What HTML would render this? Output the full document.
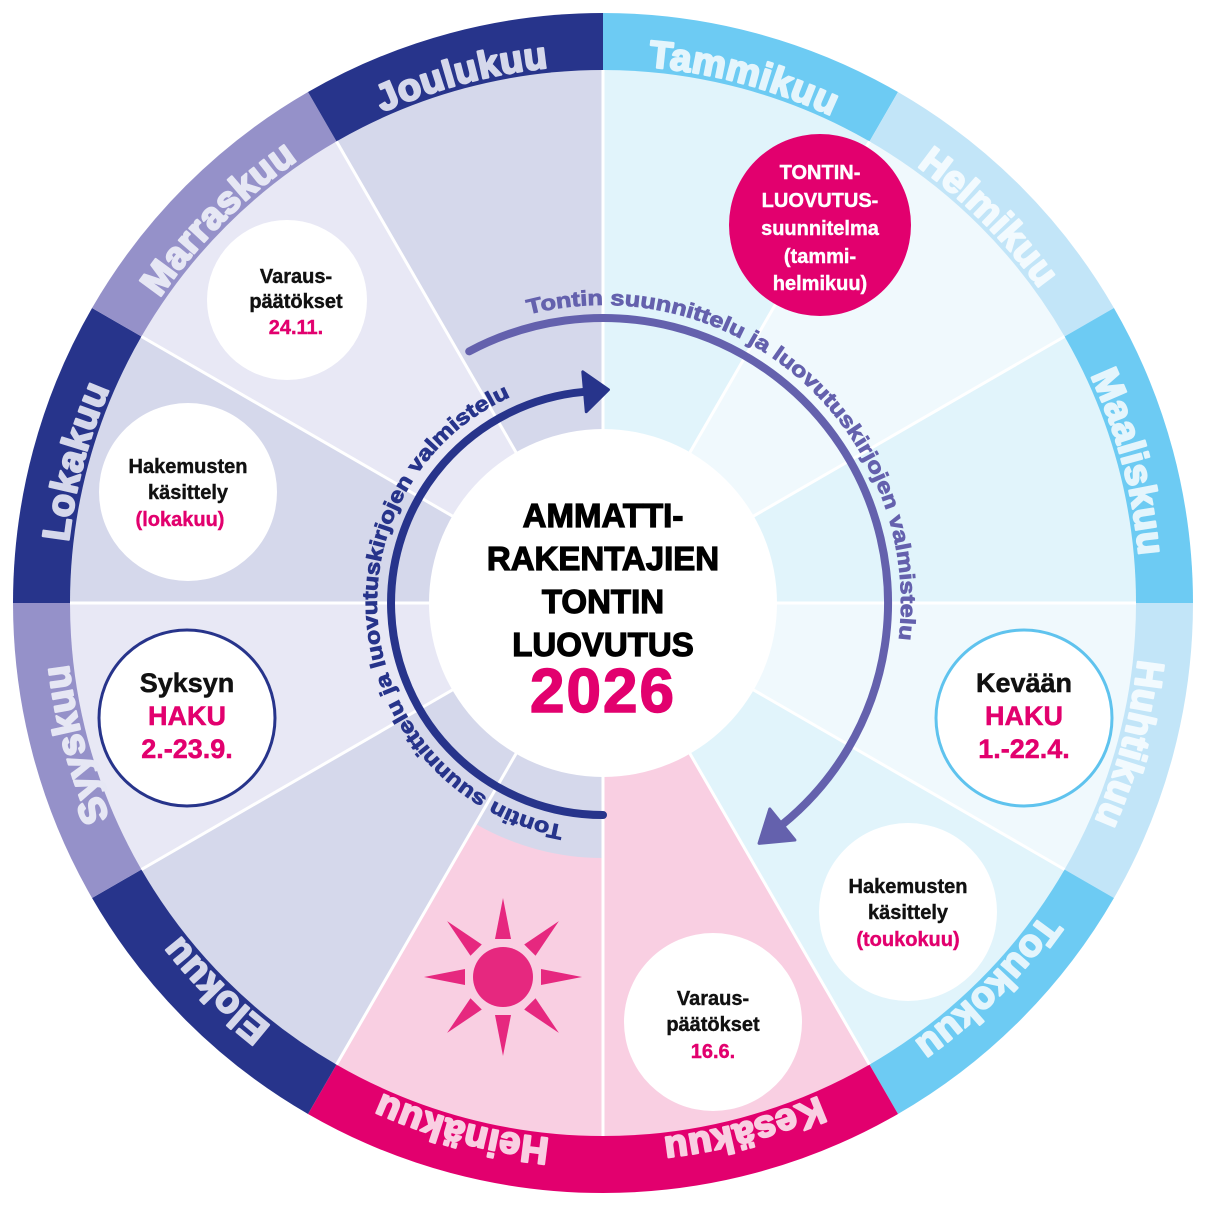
<!DOCTYPE html>
<html><head><meta charset="utf-8"><style>
html,body{margin:0;padding:0;background:#fff;}
svg{display:block;font-family:"Liberation Sans",sans-serif;font-weight:bold;}
</style></head><body>
<svg id="s" width="1206" height="1206" viewBox="0 0 1206 1206" xmlns="http://www.w3.org/2000/svg">
<g id="shapes"></g>
<defs>
<path id="m0" d="M603,65 A538,538 0 0 1 872,137.1"/>
<path id="m1" d="M872,137.1 A538,538 0 0 1 1068.9,334"/>
<path id="m2" d="M1068.9,334 A538,538 0 0 1 1141,603"/>
<path id="m3" d="M1141,603 A538,538 0 0 1 1068.9,872"/>
<path id="m4" d="M1068.9,872 A538,538 0 0 1 872,1068.9"/>
<path id="m5" d="M872,1068.9 A538,538 0 0 1 603,1141"/>
<path id="m6" d="M603,1141 A538,538 0 0 1 334,1068.9"/>
<path id="m7" d="M334,1068.9 A538,538 0 0 1 137.1,872"/>
<path id="m8" d="M137.1,872 A538,538 0 0 1 65,603"/>
<path id="m9" d="M65,603 A538,538 0 0 1 137.1,334"/>
<path id="m10" d="M137.1,334 A538,538 0 0 1 334,137.1"/>
<path id="m11" d="M334,137.1 A538,538 0 0 1 603,65"/>
<path id="tp1"/>
<path id="tp2"/>
</defs>
<g font-size="38" text-anchor="middle" letter-spacing="0.5" stroke-width="2.2" stroke-linejoin="round">
<text fill="#e4f5fc" stroke="#e4f5fc"><textPath href="#m0" startOffset="50%">Tammikuu</textPath></text>
<text fill="#f2fafe" stroke="#f2fafe"><textPath href="#m1" startOffset="50%">Helmikuu</textPath></text>
<text fill="#e4f5fc" stroke="#e4f5fc"><textPath href="#m2" startOffset="50%">Maaliskuu</textPath></text>
<text fill="#f2fafe" stroke="#f2fafe"><textPath href="#m3" startOffset="50%">Huhtikuu</textPath></text>
<text fill="#e4f5fc" stroke="#e4f5fc"><textPath href="#m4" startOffset="50%">Toukokuu</textPath></text>
<text fill="#f9cfe2" stroke="#f9cfe2"><textPath href="#m5" startOffset="50%">Kesäkuu</textPath></text>
<text fill="#f9cfe2" stroke="#f9cfe2"><textPath href="#m6" startOffset="50%">Heinäkuu</textPath></text>
<text fill="#d5d8eb" stroke="#d5d8eb"><textPath href="#m7" startOffset="50%">Elokuu</textPath></text>
<text fill="#e6e7f4" stroke="#e6e7f4"><textPath href="#m8" startOffset="50%">Syyskuu</textPath></text>
<text fill="#d5d8eb" stroke="#d5d8eb"><textPath href="#m9" startOffset="50%">Lokakuu</textPath></text>
<text fill="#e6e7f4" stroke="#e6e7f4"><textPath href="#m10" startOffset="50%">Marraskuu</textPath></text>
<text fill="#d5d8eb" stroke="#d5d8eb"><textPath href="#m11" startOffset="50%">Joulukuu</textPath></text>
</g>
<g id="arrows"></g>
<text font-size="21" fill="#27348b" stroke="#27348b" stroke-width="0.8" textLength="575" lengthAdjust="spacingAndGlyphs"><textPath href="#tp1" startOffset="8">Tontin suunnittelu ja luovutuskirjojen valmistelu</textPath></text>
<text font-size="21" fill="#6461ad" stroke="#6461ad" stroke-width="0.8" textLength="580" lengthAdjust="spacingAndGlyphs"><textPath href="#tp2" startOffset="8">Tontin suunnittelu ja luovutuskirjojen valmistelu</textPath></text>

<circle cx="820" cy="225" r="91" fill="#e2006e"/>
<g font-size="20" fill="#fff" stroke="#fff" stroke-width="0.4" text-anchor="middle">
<text x="820" y="179">TONTIN-</text>
<text x="820" y="207">LUOVUTUS-</text>
<text x="820" y="235">suunnitelma</text>
<text x="820" y="263">(tammi-</text>
<text x="820" y="290">helmikuu)</text>
</g>
<circle cx="287" cy="300" r="80" fill="#fff"/>
<g font-size="20" text-anchor="middle" stroke-width="0.4">
<text x="296" y="283" fill="#111" stroke="#111">Varaus-</text>
<text x="296" y="308" fill="#111" stroke="#111">päätökset</text>
<text x="296" y="334" fill="#e2006e" stroke="#e2006e">24.11.</text>
</g>
<circle cx="188" cy="492" r="89" fill="#fff"/>
<g font-size="20" text-anchor="middle" stroke-width="0.4">
<text x="188" y="473" fill="#111" stroke="#111">Hakemusten</text>
<text x="188" y="499" fill="#111" stroke="#111">käsittely</text>
<text x="180" y="526" fill="#e2006e" stroke="#e2006e">(lokakuu)</text>
</g>
<circle cx="187" cy="718" r="88" fill="#fff" stroke="#27348b" stroke-width="3"/>
<g font-size="27" text-anchor="middle" stroke-width="0.5">
<text x="187" y="692" fill="#111" stroke="#111">Syksyn</text>
<text x="187" y="725" fill="#e2006e" stroke="#e2006e">HAKU</text>
<text x="187" y="758" fill="#e2006e" stroke="#e2006e">2.-23.9.</text>
</g>
<circle cx="1024" cy="718" r="88" fill="#fff" stroke="#5fc3ee" stroke-width="3"/>
<g font-size="27" text-anchor="middle" stroke-width="0.5">
<text x="1024" y="692" fill="#111" stroke="#111">Kevään</text>
<text x="1024" y="725" fill="#e2006e" stroke="#e2006e">HAKU</text>
<text x="1024" y="758" fill="#e2006e" stroke="#e2006e">1.-22.4.</text>
</g>
<circle cx="908" cy="912" r="89" fill="#fff"/>
<g font-size="20" text-anchor="middle" stroke-width="0.4">
<text x="908" y="893" fill="#111" stroke="#111">Hakemusten</text>
<text x="908" y="919" fill="#111" stroke="#111">käsittely</text>
<text x="908" y="946" fill="#e2006e" stroke="#e2006e">(toukokuu)</text>
</g>
<circle cx="713" cy="1022" r="89" fill="#fff"/>
<g font-size="20" text-anchor="middle" stroke-width="0.4">
<text x="713" y="1005" fill="#111" stroke="#111">Varaus-</text>
<text x="713" y="1031" fill="#111" stroke="#111">päätökset</text>
<text x="713" y="1058" fill="#e2006e" stroke="#e2006e">16.6.</text>
</g>
<g id="sun"></g>

<circle cx="603" cy="603" r="174" fill="#fff"/>
<g font-size="33" fill="#000" stroke="#000" stroke-width="1.2" text-anchor="middle">
<text x="603" y="527">AMMATTI-</text>
<text x="603" y="570">RAKENTAJIEN</text>
<text x="603" y="613">TONTIN</text>
<text x="603" y="656">LUOVUTUS</text>
</g>
<text x="603" y="712" font-size="62" fill="#e2006e" stroke="#e2006e" stroke-width="1.5" text-anchor="middle" letter-spacing="2">2026</text>
</svg>
<script>
(function(){
var C=603,NS="http://www.w3.org/2000/svg";
function P(a,r){var t=a*Math.PI/180;return [C+r*Math.sin(t),C-r*Math.cos(t)];}
function f(p){return p[0].toFixed(2)+","+p[1].toFixed(2);}
function wedge(a1,a2,r){return "M"+C+","+C+" L"+f(P(a1,r))+" A"+r+","+r+" 0 "+((a2-a1)>180?1:0)+" 1 "+f(P(a2,r))+" Z";}
function arc(a1,a2,r){return "M"+f(P(a1,r))+" A"+r+","+r+" 0 "+((a2-a1)>180?1:0)+" 1 "+f(P(a2,r));}
function el(tag,attrs,parent){var e=document.createElementNS(NS,tag);for(var k in attrs)e.setAttribute(k,attrs[k]);parent.appendChild(e);return e;}
var g=document.getElementById("shapes");
var ring=["#6dcbf3","#c2e5f8","#6dcbf3","#c2e5f8","#6dcbf3","#e2006e","#e2006e","#27348b","#9591c9","#27348b","#9591c9","#27348b"];
var fill=["#e1f4fb","#f0f9fd","#e1f4fb","#f0f9fd","#e1f4fb","#f9cfe2","#f9cfe2","#d5d8eb","#e8e8f5","#d5d8eb","#e8e8f5","#d5d8eb"];
for(var i=0;i<12;i++){el("path",{d:wedge(i*30,i*30+30,590),fill:ring[i]},g);}
for(var i=0;i<12;i++){el("path",{d:wedge(i*30,i*30+30,533),fill:fill[i]},g);}
el("path",{d:wedge(180,210,255),fill:"#d5d8eb"},g);
for(var i=0;i<12;i++){var p=P(i*30,533);el("line",{x1:C,y1:C,x2:p[0],y2:p[1],stroke:"#fff","stroke-width":3},g);}
document.getElementById("tp1").setAttribute("d",arc(188,350,226));
document.getElementById("tp2").setAttribute("d",arc(-16,100,298));
var a=document.getElementById("arrows");
function arrow(a1,a2,r,col,w,hl,hw){
 el("path",{d:arc(a1,a2,r),fill:"none",stroke:col,"stroke-width":w,"stroke-linecap":"round"},a);
 var e=P(a2,r),t=a2*Math.PI/180,tx=Math.cos(t),ty=Math.sin(t),nx=Math.sin(t),ny=-Math.cos(t);
 var tip=[e[0]+hl*tx,e[1]+hl*ty],b1=[e[0]+hw*nx,e[1]+hw*ny],b2=[e[0]-hw*nx,e[1]-hw*ny];
 el("path",{d:"M"+f(tip)+" L"+f(b1)+" L"+f(b2)+" Z",fill:col,"stroke":col,"stroke-width":3,"stroke-linejoin":"round"},a);
}
arrow(180,355,212,"#27348b",8,24,20);
arrow(-28,141,285,"#6461ad",8,30,20);
var s=document.getElementById("sun"),sx=503,sy=977;
el("circle",{cx:sx,cy:sy,r:30,fill:"#e6287f"},s);
for(var k=0;k<8;k++){var t=k*45*Math.PI/180,dx=Math.sin(t),dy=-Math.cos(t),nx=Math.cos(t),ny=Math.sin(t);
 var tip=[sx+79*dx,sy+79*dy],b1=[sx+38*dx+8*nx,sy+38*dy+8*ny],b2=[sx+38*dx-8*nx,sy+38*dy-8*ny];
 el("path",{d:"M"+f(tip)+" L"+f(b1)+" L"+f(b2)+" Z",fill:"#e6287f"},s);}
})();
</script>
</body></html>
